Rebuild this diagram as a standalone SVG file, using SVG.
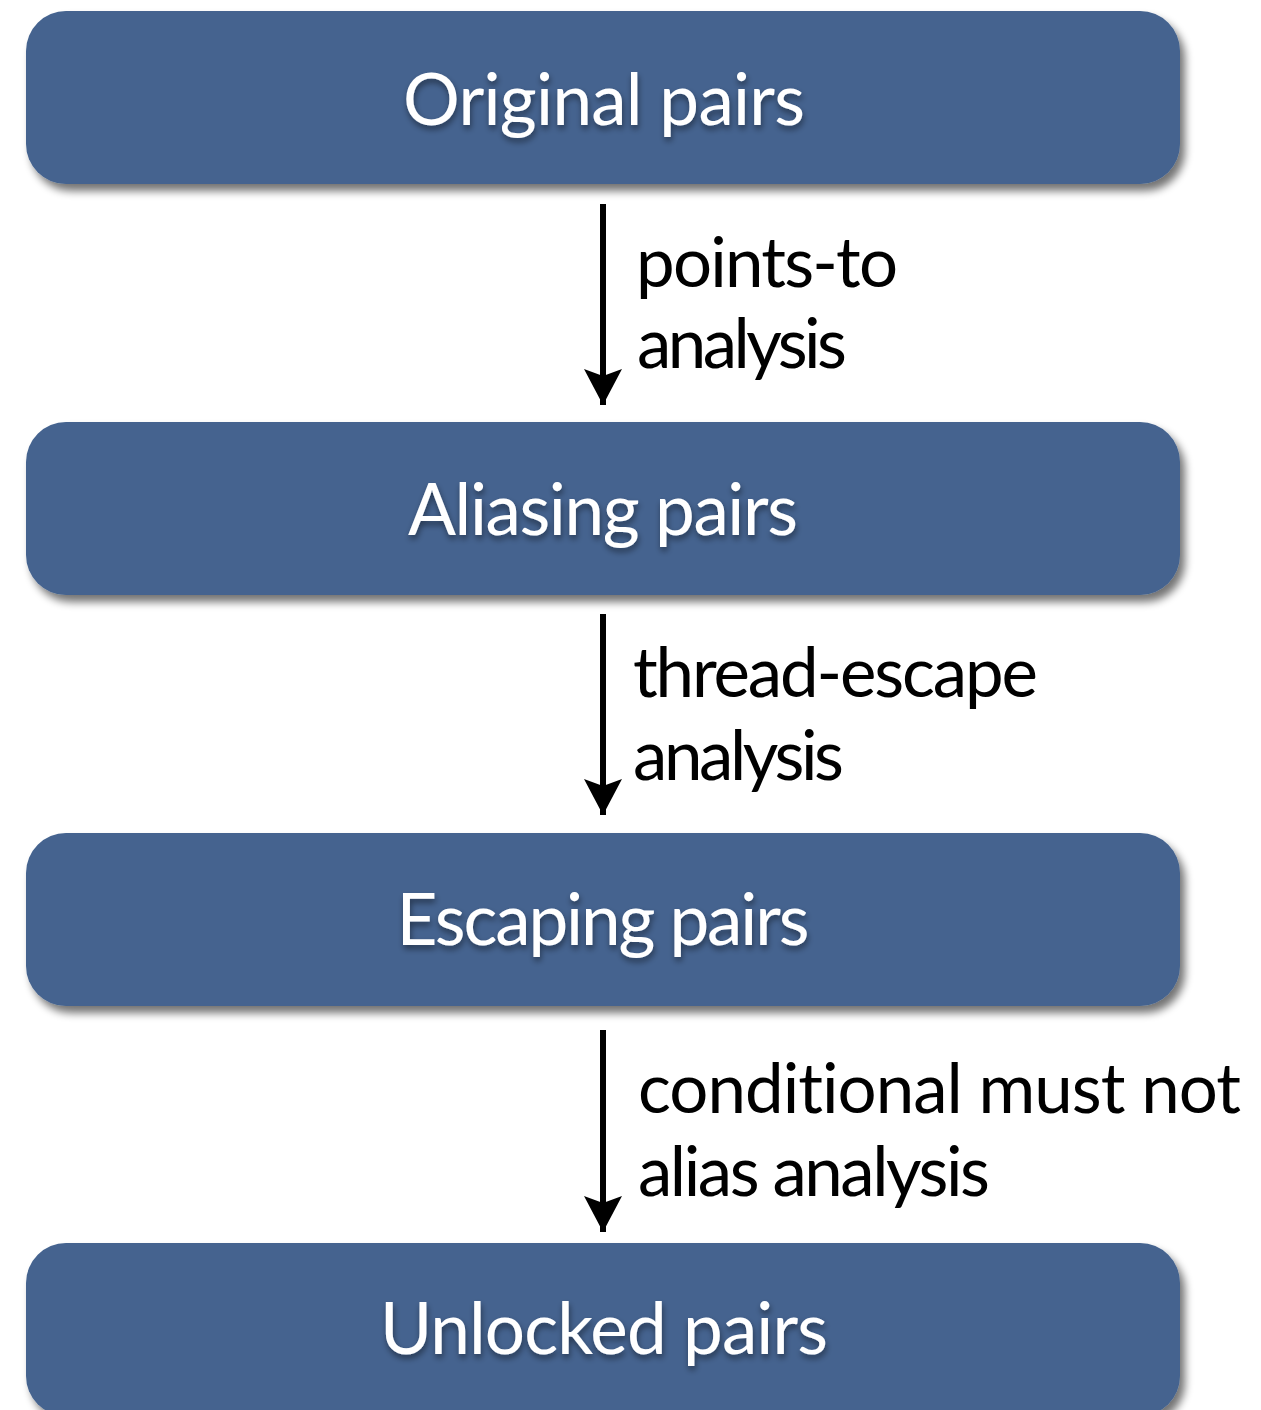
<svg xmlns="http://www.w3.org/2000/svg" width="1261" height="1410" viewBox="0 0 1261 1410">
  <defs>
    <filter id="boxShadow" x="-5%" y="-20%" width="115%" height="150%">
      <feGaussianBlur in="SourceAlpha" stdDeviation="4"/>
      <feOffset dx="5" dy="7" result="b"/>
      <feComponentTransfer><feFuncA type="linear" slope="0.55"/></feComponentTransfer>
      <feMerge><feMergeNode/><feMergeNode in="SourceGraphic"/></feMerge>
    </filter>
    <filter id="textShadow" x="-10%" y="-30%" width="120%" height="170%">
      <feGaussianBlur in="SourceAlpha" stdDeviation="3"/>
      <feOffset dx="1" dy="4" result="b"/>
      <feComponentTransfer><feFuncA type="linear" slope="0.45"/></feComponentTransfer>
      <feMerge><feMergeNode/><feMergeNode in="SourceGraphic"/></feMerge>
    </filter>
    <marker id="head" markerUnits="userSpaceOnUse" markerWidth="44" markerHeight="44" viewBox="0 0 44 44" refX="36" refY="22" orient="auto">
      <path d="M0,3 L36,22 L0,41 L7,22 Z" fill="#000"/>
    </marker>
  </defs>
  <style>
    text { font-variant-ligatures: none; font-feature-settings: "liga" 0, "clig" 0; }
    .box { fill: #44638F; filter: url(#boxShadow); }
    .title { font-family: "Lato", "Liberation Sans", sans-serif; font-size: 71px; fill: #FFFFFF; text-anchor: middle; filter: url(#textShadow); }
    .label { font-family: "Lato", "Liberation Sans", sans-serif; font-size: 69px; fill: #000000; }
    .edge { stroke: #000; stroke-width: 6; fill: none; marker-end: url(#head); }
  </style>
  <rect width="1261" height="1410" fill="#FFFFFF"/>

  <g id="original">
    <rect class="box" x="26" y="11" width="1154" height="173" rx="40" ry="40"/>
    <text class="title" x="604" y="125" textLength="402">Original pairs</text>
  </g>
  <g id="aliasing">
    <rect class="box" x="26" y="422" width="1154" height="173" rx="40" ry="40"/>
    <text class="title" x="603" y="535" textLength="390">Aliasing pairs</text>
  </g>
  <g id="escaping">
    <rect class="box" x="26" y="833" width="1154" height="173" rx="40" ry="40"/>
    <text class="title" x="603" y="945" textLength="413">Escaping pairs</text>
  </g>
  <g id="unlocked">
    <rect class="box" x="26" y="1243" width="1154" height="173" rx="40" ry="40"/>
    <text class="title" x="604" y="1354" textLength="448">Unlocked pairs</text>
  </g>

  <g id="connectors">
    <line class="edge" x1="603" y1="204" x2="603" y2="405"/>
    <line class="edge" x1="603" y1="614" x2="603" y2="815"/>
    <line class="edge" x1="603" y1="1030" x2="603" y2="1232"/>
    <text class="label" x="636" y="287" textLength="262">points-to</text>
    <text class="label" x="637" y="368" textLength="210">analysis</text>
    <text class="label" x="633" y="697" textLength="405">thread-escape</text>
    <text class="label" x="633" y="780" textLength="211">analysis</text>
    <text class="label" x="638" y="1113" textLength="603">conditional must not</text>
    <text class="label" x="638" y="1196" textLength="352">alias analysis</text>
  </g>
</svg>
